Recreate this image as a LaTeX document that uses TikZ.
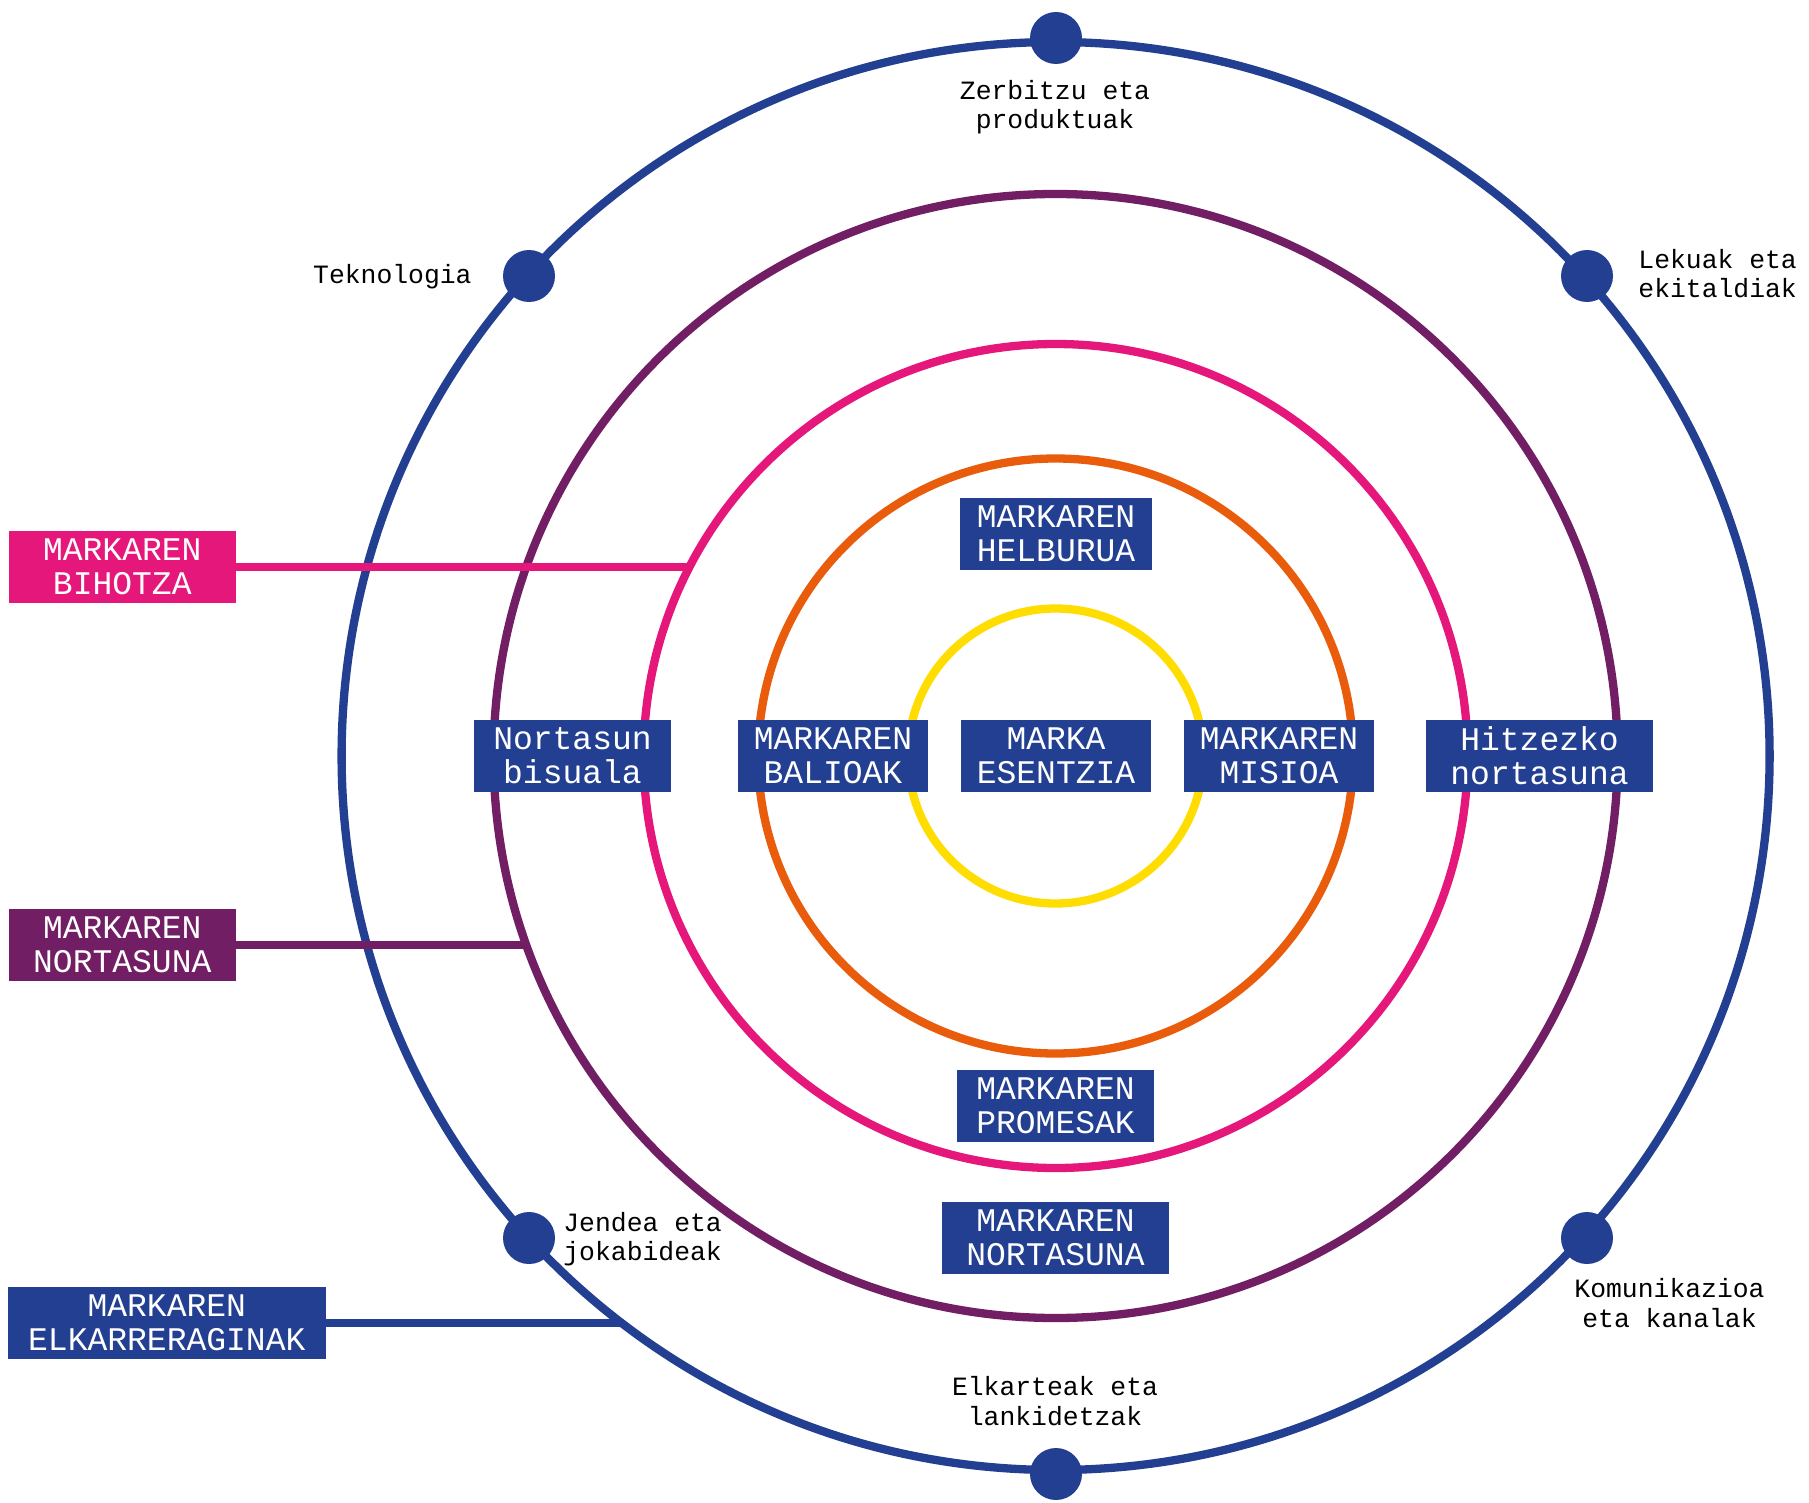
\documentclass[tikz,border=0pt]{standalone}
\usepackage{fontspec}
\setmainfont{Liberation Mono}
\definecolor{cblue}{HTML}{233F92}
\definecolor{cpurple}{HTML}{721E64}
\definecolor{cpink}{HTML}{E5177B}
\definecolor{corange}{HTML}{E95C0C}
\definecolor{cyellow}{HTML}{FFDD00}
\newcommand\boxfont{\fontsize{16.5pt}{17pt}\selectfont}
\newcommand\lblfont{\fontsize{13.2pt}{14.6pt}\selectfont}
\begin{document}
\begin{tikzpicture}[x=0.5pt,y=-0.5pt,
  ring/.style={line width=4.15pt},
  conn/.style={line width=4pt},
  lbox/.style={fill=cblue, text=white, font=\boxfont, align=center, inner sep=0pt, minimum height=36pt},
  lbl/.style={font=\lblfont, text=black, inner sep=0pt},
  dot/.style={circle, fill=cblue, minimum size=26pt, inner sep=0pt}]
\useasboundingbox[fill=white] (0,0) rectangle (1809,1503);
\coordinate (c) at (1055.6,756);
% rings
\draw[ring, cblue] (c) circle[radius=357pt];
\draw[ring, cpurple] (c) circle[radius=281pt];
\draw[ring, cpink] (c) circle[radius=206pt];
\draw[ring, corange] (c) circle[radius=148.75pt];
\draw[ring, cyellow] (c) circle[radius=73.75pt];
% dots on outer ring
\node[dot] (dtop) at (1056,38) {};
\node[dot] (dbot) at (1056,1474) {};
\node[dot] (dtl) at (529,276) {};
\node[dot] (dtr) at (1587,276) {};
\node[dot] (dbl) at (529,1238) {};
\node[dot] (dbr) at (1587,1238) {};
% outer labels
\node[lbl, align=center] (lzerb) at (1055,107) {Zerbitzu eta\\produktuak};
\node[lbl, anchor=base east] (ltekno) at (472,284) {Teknologia};
\node[lbl, align=left, anchor=west] (llekuak) at (1638,274) {Lekuak eta\\ekitaldiak};
\node[lbl, align=left, anchor=west] (ljendea) at (563,1239) {Jendea eta\\jokabideak};
\node[lbl, align=center] (lkomun) at (1669.5,1303) {Komunikazioa\\eta kanalak};
\node[lbl, align=center] (lelkart) at (1055,1401) {Elkarteak eta\\lankidetzak};
% inner boxes
\node[lbox, minimum width=96pt] (helburua) at (1056,534) {MARKAREN\\HELBURUA};
\node[lbox, minimum width=98.5pt] (bisuala) at (572.5,756) {Nortasun\\bisuala};
\node[lbox, minimum width=95pt] (balioak) at (833,756) {MARKAREN\\BALIOAK};
\node[lbox, minimum width=95pt] (esentzia) at (1056,756) {MARKA\\ESENTZIA};
\node[lbox, minimum width=95pt] (misioa) at (1279,756) {MARKAREN\\MISIOA};
\node[lbox, minimum width=113.5pt] (hitzezko) at (1539.5,756) {Hitzezko\\nortasuna};
\node[lbox, minimum width=98.5pt] (promesak) at (1055.5,1106) {MARKAREN\\PROMESAK};
\node[lbox, minimum width=113.5pt] (nortasunab) at (1055.5,1238) {MARKAREN\\NORTASUNA};
% left legend boxes
\node[lbox, fill=cpink, minimum width=113.5pt] (bihotza) at (122.3,567) {MARKAREN\\BIHOTZA};
\node[lbox, fill=cpurple, minimum width=113.5pt] (nortasunal) at (122.3,945) {MARKAREN\\NORTASUNA};
\node[lbox, minimum width=158.75pt] (elkarr) at (166.8,1323) {MARKAREN\\ELKARRERAGINAK};
% connector ends on rings
\coordinate (epink) at (689.5,567);
\coordinate (epurple) at (526.3,945);
\coordinate (eblue) at (621.6,1323);
\draw[conn, cpink] (bihotza.east) -- (epink);
\draw[conn, cpurple] (nortasunal.east) -- (epurple);
\draw[conn, cblue] (elkarr.east) -- (eblue);
\end{tikzpicture}
\end{document}
